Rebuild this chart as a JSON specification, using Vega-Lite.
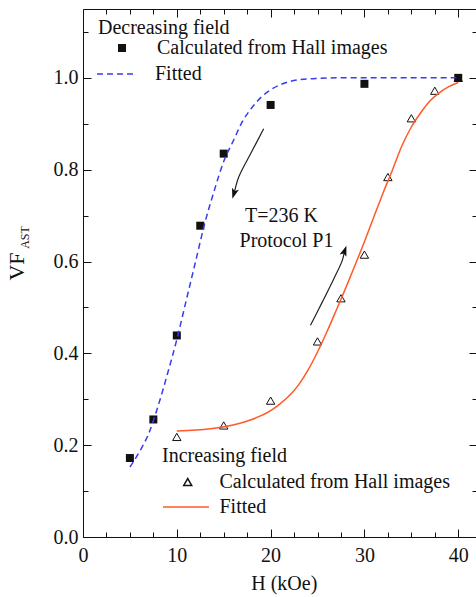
{
  "$schema": "https://vega.github.io/schema/vega-lite/v6.json",
  "width": 394,
  "height": 528,
  "autosize": {"type": "none"},
  "padding": {"left": 83, "top": 9, "right": 0, "bottom": 60},
  "background": "white",
  "config": {
    "font": "Liberation Serif",
    "view": {"stroke": null},
    "axis": {
      "grid": false,
      "domainColor": "#111",
      "tickColor": "#111",
      "labelColor": "#111",
      "titleColor": "#111",
      "labelFont": "Liberation Serif",
      "titleFont": "Liberation Serif",
      "labelFontSize": 20,
      "titleFontSize": 20,
      "titleFontWeight": "normal",
      "domainWidth": 1,
      "tickWidth": 1,
      "labelFlush": false,
      "labelOverlap": false
    },
    "legend": {
      "titleFont": "Liberation Serif",
      "titleFontSize": 20,
      "titleFontWeight": "normal",
      "titleColor": "#111",
      "labelFont": "Liberation Serif",
      "labelFontSize": 20,
      "labelColor": "#111",
      "labelLimit": 0,
      "padding": 0,
      "symbolOpacity": 1
    }
  },
  "datasets": {
    "decPoints": [
      {"H": 5, "VF": 0.172, "series": "Calculated from Hall images"},
      {"H": 7.5, "VF": 0.256, "series": "Calculated from Hall images"},
      {"H": 10, "VF": 0.439, "series": "Calculated from Hall images"},
      {"H": 12.5, "VF": 0.678, "series": "Calculated from Hall images"},
      {"H": 15, "VF": 0.835, "series": "Calculated from Hall images"},
      {"H": 20, "VF": 0.941, "series": "Calculated from Hall images"},
      {"H": 30, "VF": 0.987, "series": "Calculated from Hall images"},
      {"H": 40, "VF": 1.0, "series": "Calculated from Hall images"}
    ],
    "decFit": [
      {"H": 5, "VF": 0.152}, {"H": 6, "VF": 0.185}, {"H": 7, "VF": 0.225},
      {"H": 8, "VF": 0.285}, {"H": 9, "VF": 0.355}, {"H": 10, "VF": 0.43},
      {"H": 11, "VF": 0.515}, {"H": 12, "VF": 0.6}, {"H": 13, "VF": 0.685},
      {"H": 14, "VF": 0.755}, {"H": 15, "VF": 0.818}, {"H": 16, "VF": 0.862},
      {"H": 17, "VF": 0.905}, {"H": 18, "VF": 0.935}, {"H": 19, "VF": 0.958},
      {"H": 20, "VF": 0.974}, {"H": 21, "VF": 0.985}, {"H": 22, "VF": 0.992},
      {"H": 23, "VF": 0.996}, {"H": 24, "VF": 0.998}, {"H": 25, "VF": 0.999},
      {"H": 27, "VF": 1.0}, {"H": 30, "VF": 1.0}, {"H": 35, "VF": 1.0}, {"H": 40, "VF": 1.0}
    ],
    "incPoints": [
      {"H": 10, "VF": 0.218, "series": "Calculated from  Hall images"},
      {"H": 15, "VF": 0.243, "series": "Calculated from  Hall images"},
      {"H": 20, "VF": 0.297, "series": "Calculated from  Hall images"},
      {"H": 25, "VF": 0.426, "series": "Calculated from  Hall images"},
      {"H": 27.5, "VF": 0.52, "series": "Calculated from  Hall images"},
      {"H": 30, "VF": 0.615, "series": "Calculated from  Hall images"},
      {"H": 32.5, "VF": 0.784, "series": "Calculated from  Hall images"},
      {"H": 35, "VF": 0.912, "series": "Calculated from  Hall images"},
      {"H": 37.5, "VF": 0.972, "series": "Calculated from  Hall images"},
      {"H": 40, "VF": 1.0, "series": "Calculated from  Hall images"}
    ],
    "incFit": [
      {"H": 10, "VF": 0.231}, {"H": 12, "VF": 0.233}, {"H": 14, "VF": 0.237},
      {"H": 16, "VF": 0.244}, {"H": 18, "VF": 0.256}, {"H": 20, "VF": 0.275},
      {"H": 21, "VF": 0.29}, {"H": 22, "VF": 0.308}, {"H": 23, "VF": 0.332},
      {"H": 24, "VF": 0.364}, {"H": 25, "VF": 0.403}, {"H": 26, "VF": 0.447},
      {"H": 27, "VF": 0.494}, {"H": 28, "VF": 0.542}, {"H": 29, "VF": 0.592},
      {"H": 30, "VF": 0.643}, {"H": 31, "VF": 0.697}, {"H": 32, "VF": 0.75},
      {"H": 33, "VF": 0.8}, {"H": 34, "VF": 0.852}, {"H": 35, "VF": 0.893},
      {"H": 36, "VF": 0.924}, {"H": 37, "VF": 0.95}, {"H": 38, "VF": 0.968},
      {"H": 39, "VF": 0.981}, {"H": 40, "VF": 0.99}
    ],
    "arrows": [
      {"id": "down", "ord": 1, "H": 19.26, "VF": 0.889},
      {"id": "down", "ord": 2, "H": 17.85, "VF": 0.834},
      {"id": "down", "ord": 3, "H": 16.6, "VF": 0.784},
      {"id": "down", "ord": 4, "H": 16.14, "VF": 0.751},
      {"id": "up", "ord": 1, "H": 24.25, "VF": 0.461},
      {"id": "up", "ord": 2, "H": 25.49, "VF": 0.511},
      {"id": "up", "ord": 3, "H": 26.73, "VF": 0.562},
      {"id": "up", "ord": 4, "H": 27.63, "VF": 0.602},
      {"id": "up", "ord": 5, "H": 27.87, "VF": 0.622}
    ],
    "heads": [
      {"H": 16.11, "VF": 0.749, "ang": 197},
      {"H": 27.87, "VF": 0.622, "ang": 19}
    ],
    "notes": [
      {"H": 21.15, "VF": 0.686, "text": "T=236 K"},
      {"H": 21.69, "VF": 0.631, "text": "Protocol P1"}
    ]
  },
  "layer": [
    {
      "data": {"name": "decPoints"},
      "mark": {"type": "point", "filled": true, "size": 64, "color": "#111", "opacity": 1},
      "encoding": {
        "x": {"field": "H", "type": "quantitative", "scale": {"domain": [0, 42], "nice": false, "zero": false},
          "axis": {"values": [0, 10, 20, 30, 40], "format": "d", "tickSize": -8, "labelPadding": 16, "title": "H (kOe)", "titleX": 200.8, "titleY": 46, "titleBaseline": "middle", "titleAlign": "center"}},
        "y": {"field": "VF", "type": "quantitative", "scale": {"domain": [0, 1.15], "nice": false},
          "axis": {"values": [0, 0.2, 0.4, 0.6, 0.8, 1.0], "format": ".1f", "tickSize": -8, "labelPadding": 13, "title": "VF", "titleFontSize": 22, "titleAngle": -90, "titleX": -66.5, "titleY": 257, "titleAlign": "center", "titleBaseline": "middle"}},
        "shape": {"field": "series", "type": "nominal",
          "scale": {"domain": ["Calculated from Hall images"], "range": ["square"]},
          "legend": {
            "orient": "none", "legendX": 15, "legendY": 9,
            "title": "Decreasing field", "titlePadding": 0,
            "symbolSize": 64, "symbolOffset": 14, "labelOffset": 25
          }}
      }
    },
    {
      "data": {"name": "decFit"},
      "mark": {"type": "line", "color": "#3b3bf0", "strokeWidth": 1.5, "interpolate": "monotone"},
      "encoding": {
        "x": {"field": "H", "type": "quantitative", "scale": {"domain": [0, 42], "nice": false, "zero": false},
          "axis": {"orient": "top", "values": [0, 10, 20, 30, 40], "tickSize": -8, "labels": false, "title": null}},
        "y": {"field": "VF", "type": "quantitative", "scale": {"domain": [0, 1.15], "nice": false},
          "axis": {"orient": "right", "values": [0, 0.2, 0.4, 0.6, 0.8, 1.0], "tickSize": -8, "labels": false, "title": "AST", "titleFontSize": 12, "titleAngle": -90, "titleX": -453, "titleY": 228, "titleAlign": "center", "titleBaseline": "middle"}},
        "strokeDash": {"datum": "Fitted", "type": "nominal",
          "scale": {"domain": ["Fitted"], "range": [[6, 4]]},
          "legend": {
            "orient": "none", "legendX": 15, "legendY": 44, "title": null,
            "symbolType": "stroke", "symbolSize": 1600, "symbolStrokeWidth": 1.5, "symbolStrokeColor": "#3b3bf0",
            "symbolOffset": -2, "labelOffset": 17
          }}
      }
    },
    {
      "data": {"name": "incPoints"},
      "mark": {"type": "point", "filled": false, "size": 70, "color": "#111", "strokeWidth": 1, "opacity": 1},
      "encoding": {
        "x": {"field": "H", "type": "quantitative", "scale": {"domain": [0, 42], "nice": false, "zero": false},
          "axis": {"values": [2.5, 5, 7.5, 12.5, 15, 17.5, 22.5, 25, 27.5, 32.5, 35, 37.5], "tickSize": -5, "labels": false, "domain": false, "title": null}},
        "y": {"field": "VF", "type": "quantitative", "scale": {"domain": [0, 1.15], "nice": false},
          "axis": {"values": [0.1, 0.3, 0.5, 0.7, 0.9, 1.1], "tickSize": -5, "labels": false, "domain": false, "title": null}},
        "shape": {"field": "series", "type": "nominal",
          "scale": {"domain": ["Calculated from  Hall images"], "range": ["triangle-up"]},
          "legend": {
            "orient": "none", "legendX": 79, "legendY": 437,
            "title": "Increasing field", "titlePadding": 6,
            "symbolSize": 64, "symbolOffset": 15.7, "labelOffset": 21.8
          }}
      }
    },
    {
      "data": {"name": "incFit"},
      "mark": {"type": "line", "strokeWidth": 1.5, "interpolate": "monotone"},
      "encoding": {
        "x": {"field": "H", "type": "quantitative", "scale": {"domain": [0, 42], "nice": false, "zero": false},
          "axis": {"orient": "top", "values": [2.5, 5, 7.5, 12.5, 15, 17.5, 22.5, 25, 27.5, 32.5, 35, 37.5], "tickSize": -5, "labels": false, "domain": false, "title": null}},
        "y": {"field": "VF", "type": "quantitative", "scale": {"domain": [0, 1.15], "nice": false},
          "axis": {"orient": "right", "values": [0.1, 0.3, 0.5, 0.7, 0.9, 1.1], "tickSize": -5, "labels": false, "domain": false, "title": null}},
        "color": {"datum": "Fitted", "type": "nominal",
          "scale": {"domain": ["Fitted"], "range": ["#ff5a26"]},
          "legend": {
            "orient": "none", "legendX": 79, "legendY": 474, "title": null,
            "symbolType": "stroke", "symbolSize": 2116, "symbolStrokeWidth": 1.5,
            "symbolOffset": 0, "labelOffset": 9.5
          }}
      }
    },
    {
      "data": {"name": "arrows"},
      "mark": {"type": "line", "color": "#222", "strokeWidth": 1.2, "interpolate": "catmull-rom"},
      "encoding": {
        "x": {"field": "H", "type": "quantitative", "axis": null},
        "y": {"field": "VF", "type": "quantitative", "axis": null},
        "detail": {"field": "id"},
        "order": {"field": "ord", "type": "quantitative"}
      }
    },
    {
      "data": {"name": "heads"},
      "mark": {"type": "point", "filled": true, "color": "#111", "opacity": 1, "size": 144, "shape": "M0,-1L0.6,0.75L0,0.35L-0.6,0.75Z"},
      "encoding": {
        "x": {"field": "H", "type": "quantitative", "axis": null},
        "y": {"field": "VF", "type": "quantitative", "axis": null},
        "angle": {"field": "ang", "type": "quantitative", "scale": null}
      }
    },
    {
      "data": {"name": "notes"},
      "mark": {"type": "text", "font": "Liberation Serif", "fontSize": 20, "color": "#111", "align": "center", "baseline": "alphabetic"},
      "encoding": {
        "x": {"field": "H", "type": "quantitative", "axis": null},
        "y": {"field": "VF", "type": "quantitative", "axis": null},
        "text": {"field": "text"}
      }
    }
  ],
  "resolve": {
    "scale": {"shape": "independent", "strokeDash": "independent", "color": "independent"},
    "axis": {"x": "independent", "y": "independent"}
  }
}
